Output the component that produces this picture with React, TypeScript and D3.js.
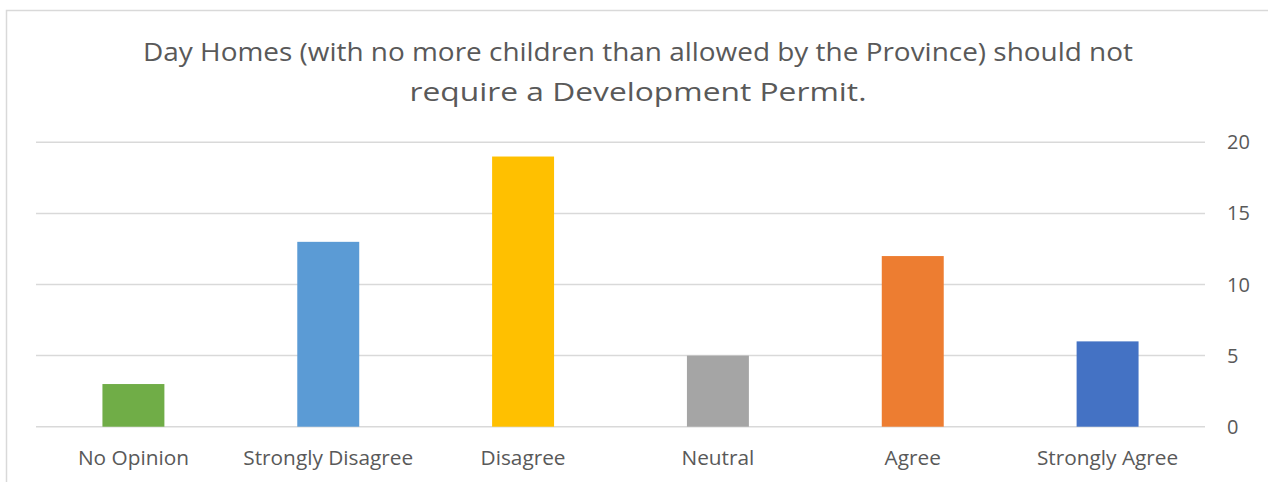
import React from "react";
import * as d3 from "d3";

const categories = ["No Opinion", "Strongly Disagree", "Disagree", "Neutral", "Agree", "Strongly Agree"];
const values = [3, 13, 19, 5, 12, 6];
const colors = ["#70AD47", "#5B9BD5", "#FFC000", "#A5A5A5", "#ED7D31", "#4472C4"];
const yTicks = [0, 5, 10, 15, 20];
const titleLines = [
  "Day Homes (with no more children than allowed by the Province) should not",
  "require a Development Permit.",
];
const titleWidths = [990, 457];

const W = 1268;
const H = 482;
const left = 36;
const right = 1205;
const top = 142.3;
const bottom = 426.7;
const font = "'Open Sans', 'DejaVu Sans', sans-serif";
const textColor = "#595959";

export default function App() {
  const x = d3.scaleBand<string>().domain(categories).range([left, right]).paddingInner(0.682).paddingOuter(0.341);
  const y = d3.scaleLinear().domain([0, 20]).range([bottom, top]);
  return (
    <svg width={W} height={H} style={{ position: "absolute", left: 0, top: 0, background: "#fff" }}>
      <rect x={0} y={0} width={W} height={H} fill="#fff" />
      <rect x={6.5} y={10.5} width={W + 10} height={H + 10} fill="none" stroke="#d9d9d9" strokeWidth={1.5} />
      {titleLines.map((t, i) => (
        <text key={i} x={638} y={61 + i * 40} textAnchor="middle" fontFamily={font} fontSize={26}
          textLength={titleWidths[i]} lengthAdjust="spacingAndGlyphs" fill={textColor}>
          {t}
        </text>
      ))}
      {yTicks.map((t) => (
        <g key={t}>
          <line x1={left} x2={right} y1={y(t)} y2={y(t)} stroke="#d9d9d9" strokeWidth={1.5} />
          <text x={1227} y={y(t) + 7} fontFamily={font} fontSize={20} fill={textColor}>
            {t}
          </text>
        </g>
      ))}
      {categories.map((c, i) => (
        <rect key={c} x={x(c)} y={y(values[i])} width={x.bandwidth()} height={y(0) - y(values[i])} fill={colors[i]} />
      ))}
      {categories.map((c) => (
        <text key={c} x={(x(c) as number) + x.bandwidth() / 2} y={465} textAnchor="middle" fontFamily={font} fontSize={20.8} fill={textColor}>
          {c}
        </text>
      ))}
    </svg>
  );
}
